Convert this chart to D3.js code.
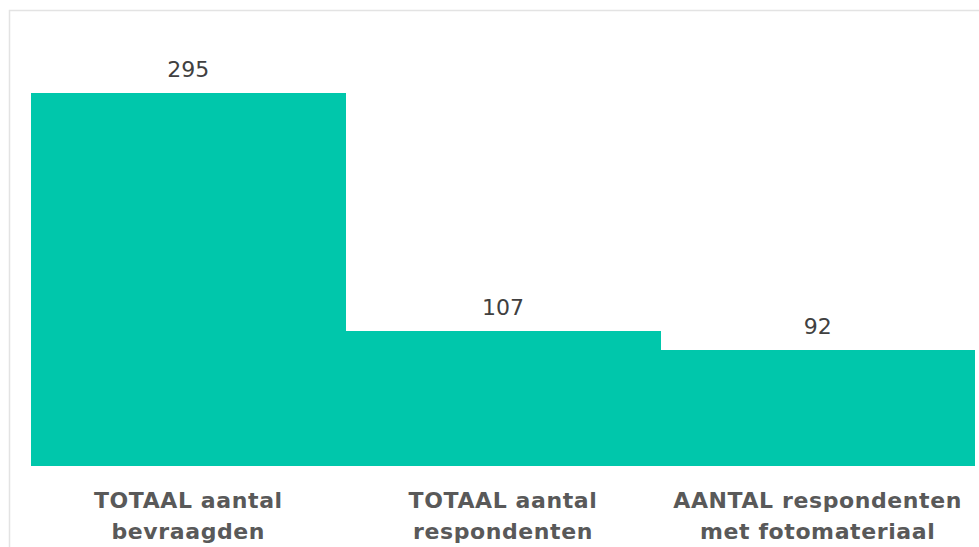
<!DOCTYPE html>
<html><head><meta charset="utf-8">
<script src="https://cdn.jsdelivr.net/npm/d3@7"></script>
<style>
html,body{margin:0;padding:0;background:#fff;overflow:hidden;}
svg{display:block;}
</style></head>
<body>
<script>
const categories = ["TOTAAL aantal|bevraagden", "TOTAAL aantal|respondenten", "AANTAL respondenten|met fotomateriaal"];
const values = [295, 107, 92];

const W = 979, H = 547;
const svg = d3.select("body").append("svg").attr("width", W).attr("height", H);

// chart frame (partially visible)
svg.append("rect").attr("x", 9.5).attr("y", 10.5).attr("width", W + 20).attr("height", H + 20)
  .attr("fill", "none").attr("stroke", "#e3e3e3").attr("stroke-width", 1.5);

const x = d3.scaleBand().domain(categories).range([31, 975]).padding(0);
const y = d3.scaleLinear().domain([0, 295]).range([466, 93]);

svg.selectAll("rect.bar").data(values).join("rect").attr("class", "bar")
  .attr("x", (d, i) => Math.floor(x(categories[i])))
  .attr("width", (d, i) => Math.ceil(x(categories[i]) + x.bandwidth()) - Math.floor(x(categories[i])))
  .attr("y", d => y(d))
  .attr("height", d => y(0) - y(d))
  .attr("fill", "#00C7AB")
  .attr("shape-rendering", "crispEdges");

svg.selectAll("text.val").data(values).join("text").attr("class", "val")
  .attr("x", (d, i) => x(categories[i]) + x.bandwidth() / 2)
  .attr("y", d => y(d) - 16)
  .attr("text-anchor", "middle")
  .attr("font-family", "'DejaVu Sans', sans-serif")
  .attr("font-size", 22)
  .attr("fill", "#404040")
  .text(d => d);

const labs = svg.selectAll("text.cat").data(categories).join("text").attr("class", "cat")
  .attr("text-anchor", "middle")
  .attr("font-family", "'DejaVu Sans', sans-serif")
  .attr("font-weight", "bold")
  .attr("font-size", 22)
  .attr("letter-spacing", 0.6)
  .attr("fill", "#595959");
labs.each(function(d) {
  const cx = x(d) + x.bandwidth() / 2;
  d.split("|").forEach((line, j) => {
    d3.select(this).append("tspan").attr("x", cx).attr("y", 508 + j * 31).text(line);
  });
});
</script>
</body></html>
